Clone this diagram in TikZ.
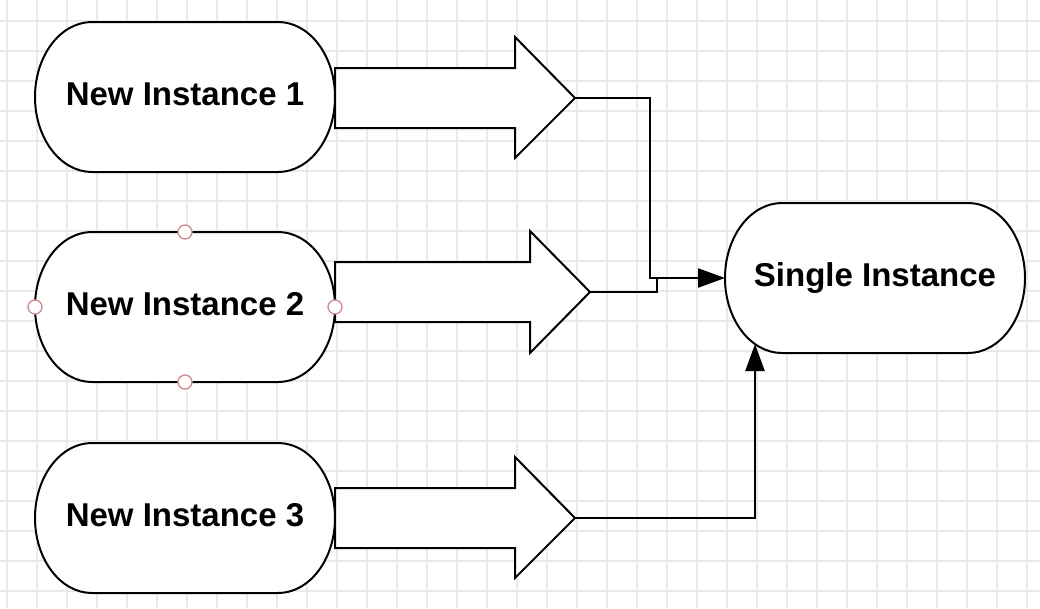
\documentclass[tikz,border=0pt]{standalone}
\usepackage{fontspec}
\setmainfont{Liberation Sans}
\usetikzlibrary{arrows.meta,calc}
\definecolor{gridc}{HTML}{E9E9E9}
\definecolor{cpt}{HTML}{D08A8A}
\pgfdeclarelayer{gridl}
\pgfdeclarelayer{arrl}
\pgfdeclarelayer{shapel}
\pgfsetlayers{gridl,arrl,shapel,main}
\tikzset{
  inst/.style={rectangle, minimum width=300pt, minimum height=150pt, inner sep=0pt, outer sep=0pt,
    text height=17pt, text depth=0pt,
    font=\fontsize{33}{40}\selectfont\bfseries},
  stad/.style={draw=black, line width=2pt, fill=white},
  bigarrow/.style={draw=black, line width=2pt, fill=white, line join=miter},
  conn/.style={draw=black, line width=2.4pt},
  conntip/.style={-{Triangle[length=27pt,width=19pt]}},
  cpoint/.style={circle, draw=cpt, fill=white, line width=1.3pt, minimum size=14pt, inner sep=0pt}
}
\newcommand\mystadium[1]{%
  \path[stad] ($(#1.north west)+(57pt,0pt)$) -- ($(#1.north east)+(-57pt,0pt)$)
    arc[start angle=90,end angle=-90,x radius=57pt,y radius=75pt]
    -- ($(#1.south west)+(57pt,0pt)$)
    arc[start angle=270,end angle=90,x radius=57pt,y radius=75pt] -- cycle;}
\begin{document}
\begin{tikzpicture}[x=1pt,y=-1pt]
\useasboundingbox (0,0) rectangle (1040,608);

% nodes (texts)
\node[inst] (n1) at (185,97) {New Instance 1};
\node[inst] (n2) at (185,307) {New Instance 2};
\node[inst] (n3) at (185,518) {New Instance 3};
\node[inst] (si) at (875,278) {Single Instance};

\begin{pgfonlayer}{gridl}
\fill[white] (0,0) rectangle (1040,608);
\foreach \x in {7,37,...,1040} \draw[gridc, line width=1.2pt] (\x,0) -- (\x,608);
\foreach \y in {21,51,...,608} \draw[gridc, line width=1.2pt] (0,\y) -- (1040,\y);
\end{pgfonlayer}

\begin{pgfonlayer}{shapel}
\mystadium{n1}
\mystadium{n2}
\mystadium{n3}
\mystadium{si}
\end{pgfonlayer}

% big arrows
\begin{pgfonlayer}{arrl}
\draw[bigarrow] (n1.east |- 0,68) -- (515,68) -- (515,37) -- (575,98) coordinate (t1) -- (515,158) -- (515,128) -- (n1.east |- 0,128) -- cycle;
\draw[bigarrow] (n2.east |- 0,262) -- (530,262) -- (530,231) -- (590,292) coordinate (t2) -- (530,353) -- (530,322) -- (n2.east |- 0,322) -- cycle;
\draw[bigarrow] (n3.east |- 0,488) -- (515,488) -- (515,457) -- (575,518) coordinate (t3) -- (515,578) -- (515,548) -- (n3.east |- 0,548) -- cycle;
\end{pgfonlayer}

% connection points of New Instance 2
\foreach \a in {north,south,west,east} \node[cpoint] (cp-\a) at (n2.\a) {};

% connectors
\coordinate (e3) at (755,344);
\draw[conn, conntip] (t1) -- (650,98) |- (si.west);
\draw[conn] (t2) -- (657,292) -- (657,278);
\draw[conn, conntip] (t3) -| (e3);
\end{tikzpicture}
\end{document}
